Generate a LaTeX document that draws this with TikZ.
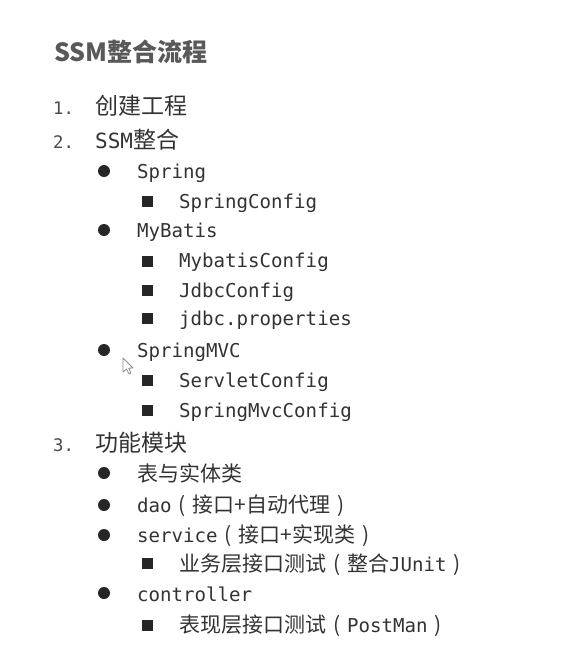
\documentclass[tikz,border=0pt]{standalone}
\usepackage{fontspec}
\setmainfont{DejaVu Sans Mono}[Scale=0.91]
\newfontfamily\cjk{Noto Sans CJK SC}
\newcommand\fp[1]{\makebox[21pt][c]{\cjk #1}}
\definecolor{txt}{HTML}{333333}
\definecolor{head}{HTML}{595959}
\definecolor{num}{HTML}{4A4A4A}

\begin{document}
\begin{tikzpicture}[x=1pt,y=-1pt]
\tikzstyle{title}=[anchor=base west,inner sep=0pt,text=head,font=\cjk\bfseries\fontsize{25}{28}\selectfont]
\tikzstyle{num}=[anchor=base west,inner sep=0pt,text=num,font=\fontsize{19}{22}\selectfont]
\tikzstyle{lone}=[anchor=base west,inner sep=0pt,text=txt,font=\fontsize{23}{26}\selectfont]
\tikzstyle{ltwo}=[anchor=base west,inner sep=0pt,text=txt,font=\fontsize{21}{24}\selectfont]
\tikzstyle{dot}=[circle,fill=black!85,inner sep=0pt,minimum size=12pt]
\tikzstyle{sq}=[rectangle,fill=black!85,inner sep=0pt,minimum size=11pt]
\useasboundingbox[fill=white] (0,0) rectangle (568,651);
% title
\node[title] (t) at (54,61) {SSM整合流程};
% level one
\node[num] (n1) at (53,114) {1.};
\node[lone] (1) at (95,114) {\cjk 创建工程};
\node[num] (n2) at (53,148) {2.};
\node[lone] (2) at (95,148) {SSM{\cjk 整合}};
\node[num] (n3) at (53,451) {3.};
\node[lone] (3) at (95,451) {\cjk 功能模块};
% level two
\node[dot] (d1) at (104,171) {};
\node[ltwo] (21) at (137,178) {Spring};
\node[dot] (d2) at (104,230) {};
\node[ltwo] (22) at (137,237) {MyBatis};
\node[dot] (d3) at (104,350) {};
\node[ltwo] (23) at (137,357) {SpringMVC};
\node[dot] (d4) at (104,473) {};
\node[ltwo] (31) at (137,481) {\cjk 表与实体类};
\node[dot] (d5) at (104,505) {};
\node[ltwo] (32) at (137,512) {dao\fp{(}{\cjk 接口+自动代理}\fp{)}};
\node[dot] (d6) at (104,535) {};
\node[ltwo] (33) at (137,542) {service\fp{(}{\cjk 接口+实现类}\fp{)}};
\node[dot] (d7) at (104,593) {};
\node[ltwo] (34) at (137,601) {controller};
% level three
\node[sq] (s1) at (147,201) {};
\node[ltwo] (211) at (179,208) {SpringConfig};
\node[sq] (s2) at (147,261) {};
\node[ltwo] (221) at (179,267) {MybatisConfig};
\node[sq] (s3) at (147,290) {};
\node[ltwo] (222) at (179,297) {JdbcConfig};
\node[sq] (s4) at (147,318) {};
\node[ltwo] (223) at (179,325) {jdbc.properties};
\node[sq] (s5) at (147,380) {};
\node[ltwo] (231) at (179,387) {ServletConfig};
\node[sq] (s6) at (147,410) {};
\node[ltwo] (232) at (179,417) {SpringMvcConfig};
\node[sq] (s7) at (147,563) {};
\node[ltwo] (331) at (179,571) {{\cjk 业务层接口测试}\fp{(}{\cjk 整合}JUnit\fp{)}};
\node[sq] (s8) at (147,625) {};
\node[ltwo] (341) at (179,632) {{\cjk 表现层接口测试}\fp{(}PostMan\fp{)}};
% mouse pointer
\draw[black!45,fill=white,line width=0.8pt,line join=round] (123,358) -- (123,372) -- (126.5,369) -- (129,374) -- (131,373) -- (128.7,368.2) -- (133,368) -- cycle;
\end{tikzpicture}
\end{document}
